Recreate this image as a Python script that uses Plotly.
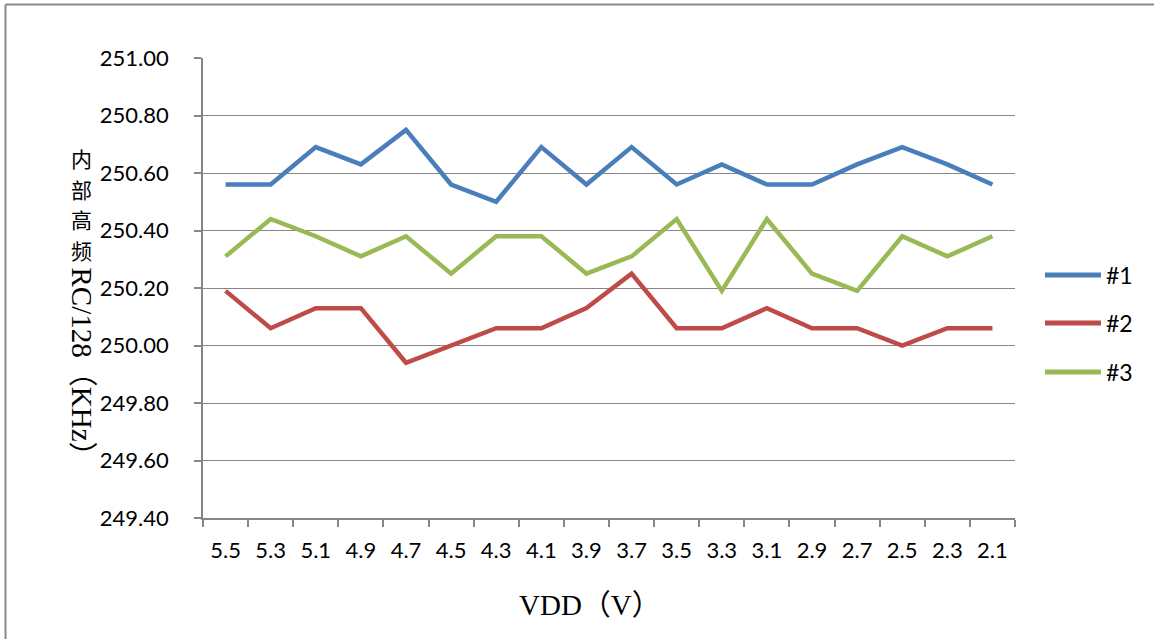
import plotly.graph_objects as go

# Supply voltage sweep (V), high to low
vdd = ["5.5", "5.3", "5.1", "4.9", "4.7", "4.5", "4.3", "4.1", "3.9",
       "3.7", "3.5", "3.3", "3.1", "2.9", "2.7", "2.5", "2.3", "2.1"]

# Internal high-frequency RC / 128 (KHz) for three samples
s1 = [250.56, 250.56, 250.69, 250.63, 250.75, 250.56, 250.50, 250.69, 250.56,
      250.69, 250.56, 250.63, 250.56, 250.56, 250.63, 250.69, 250.63, 250.56]
s2 = [250.19, 250.06, 250.13, 250.13, 249.94, 250.00, 250.06, 250.06, 250.13,
      250.25, 250.06, 250.06, 250.13, 250.06, 250.06, 250.00, 250.06, 250.06]
s3 = [250.31, 250.44, 250.38, 250.31, 250.38, 250.25, 250.38, 250.38, 250.25,
      250.31, 250.44, 250.19, 250.44, 250.25, 250.19, 250.38, 250.31, 250.38]

names = ["#1", "#2", "#3"]
colors = ["#4A7EBB", "#BE4B48", "#98B954"]

yticks = [249.4, 249.6, 249.8, 250.0, 250.2, 250.4, 250.6, 250.8, 251.0]

TICK_FONT = dict(family="Lato, 'Open Sans', sans-serif", size=22, color="#000000")
SERIF = "'Liberation Serif', 'Noto Sans CJK SC', serif"
CJK = "'Noto Sans CJK SC', sans-serif"
GRID = "#868686"

PLOT_LEFT, PLOT_W = 203, 812
PLOT_TOP, PLOT_H = 58, 460


def px(pix):
    """Convert a pixel column into a paper x coordinate."""
    return (pix - PLOT_LEFT) / PLOT_W


def py(pix):
    """Convert a pixel row into a paper y coordinate."""
    return (PLOT_TOP + PLOT_H - pix) / PLOT_H


fig = go.Figure()
for name, vals, col in zip(names, [s1, s2, s3], colors):
    fig.add_trace(go.Scatter(
        x=vdd, y=vals, name=name, mode="lines",
        line=dict(color=col, width=4.5),
        showlegend=False,
    ))

# Legend drawn at the right side
leg_y = [py(275), py(323), py(372)]
for name, col, yy in zip(names, colors, leg_y):
    fig.add_shape(type="line", xref="paper", yref="paper",
                  x0=px(1045), x1=px(1101), y0=yy, y1=yy,
                  line=dict(color=col, width=5))
    fig.add_annotation(xref="paper", yref="paper", x=px(1104), y=yy,
                       text=name, showarrow=False, xanchor="left", yanchor="middle",
                       font=dict(TICK_FONT, size=23))

# Chart frame: top and left edges
fig.add_shape(type="line", xref="paper", yref="paper",
              x0=px(5.5), x1=1.3, y0=py(4.5), y1=py(4.5),
              line=dict(color="#888888", width=2))
fig.add_shape(type="line", xref="paper", yref="paper",
              x0=px(5.5), x1=px(5.5), y0=py(4.5), y1=-0.4,
              line=dict(color="#888888", width=2))

# Y-axis title: upright CJK characters stacked, followed by rotated Latin part
title_x = px(82)
for ch, cy in zip("内部高频", [158, 188.5, 219, 249.5]):
    fig.add_annotation(xref="paper", yref="paper", x=title_x, y=py(cy),
                       text=ch, showarrow=False,
                       xanchor="center", yanchor="middle",
                       font=dict(family=CJK, size=21, color="#000000"))
fig.add_annotation(xref="paper", yref="paper", x=title_x, y=py(266),
                   text="RC/128（KHz）", showarrow=False, textangle=90,
                   xanchor="center", yanchor="top",
                   font=dict(family=SERIF, size=29, color="#000000"))

# X-axis title
fig.add_annotation(xref="paper", yref="paper", x=px(590), y=py(605),
                   text="VDD（V）", showarrow=False,
                   xanchor="center", yanchor="middle",
                   font=dict(family=SERIF, size=29, color="#000000"))

fig.update_xaxes(
    type="category", categoryorder="array", categoryarray=vdd,
    range=[-0.5, len(vdd) - 0.5],
    showline=True, linecolor=GRID, linewidth=1.5,
    showgrid=False, ticks="outside", tickson="boundaries",
    ticklen=7, tickcolor=GRID, tickwidth=1.5,
    tickfont=TICK_FONT, ticklabelstandoff=12,
    zeroline=False,
)
fig.update_yaxes(
    range=[249.4, 251.0], tickvals=yticks, tickformat=".2f",
    showline=True, linecolor=GRID, linewidth=1.5,
    showgrid=True, gridcolor=GRID, gridwidth=1.2,
    ticks="outside", ticklen=7, tickcolor=GRID, tickwidth=1.5,
    tickfont=TICK_FONT, ticklabelstandoff=21,
    zeroline=False,
)

fig.update_layout(
    width=1154, height=639,
    margin=dict(l=PLOT_LEFT, r=1154 - PLOT_LEFT - PLOT_W, t=PLOT_TOP,
                b=639 - PLOT_TOP - PLOT_H),
    paper_bgcolor="#FFFFFF", plot_bgcolor="#FFFFFF",
    showlegend=False,
)

fig.write_html("out.html")
